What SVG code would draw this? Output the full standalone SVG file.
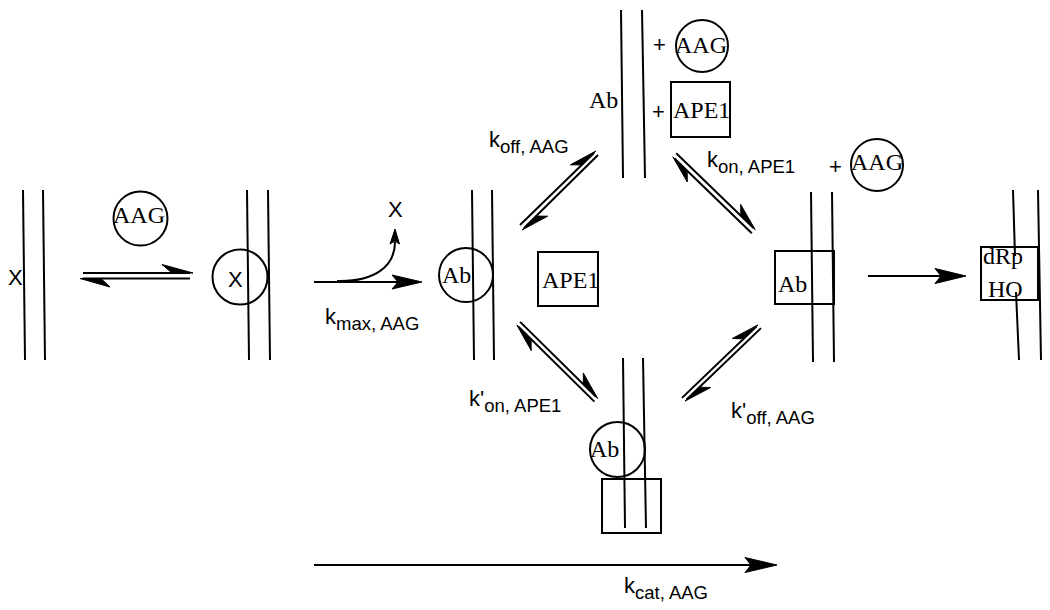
<svg xmlns="http://www.w3.org/2000/svg" width="1050" height="610" viewBox="0 0 1050 610">
<style>
.ln{stroke:#000;stroke-width:2;fill:none}
.sh{stroke:#000;stroke-width:2;fill:none}
.hd{fill:#000;stroke:#000;stroke-width:1;stroke-linejoin:miter}
.serif{font-family:"Liberation Serif","Times New Roman",serif;font-size:24px;fill:#000}
.sans{font-family:"Liberation Sans",Arial,sans-serif;font-size:22px;fill:#000}
.sub{font-size:18.5px}
</style>
<rect width="1050" height="610" fill="#fff"/>

<g id="dna-x">
<line class="ln" x1="23" y1="190" x2="25" y2="360"/>
<line class="ln" x1="43" y1="190" x2="45" y2="360"/>
<text class="sans" x="8" y="285">X</text>
</g>

<g id="aag-free">
<circle class="sh" cx="140.5" cy="218.5" r="27"/>
<text class="serif" x="113" y="223">AAG</text>
</g>

<g id="dna-aag-x">
<line class="ln" x1="247" y1="190" x2="249" y2="360"/>
<line class="ln" x1="268" y1="190" x2="270" y2="360"/>
<circle class="sh" cx="240" cy="277" r="27.5"/>
<text class="sans" x="228" y="287">X</text>
</g>

<g id="x-released">
<text class="sans" x="388" y="217">X</text>
</g>

<g id="dna-aag-ab">
<line class="ln" x1="472" y1="190" x2="474" y2="360"/>
<line class="ln" x1="492" y1="190" x2="494" y2="360"/>
<circle class="sh" cx="466" cy="275" r="27"/>
<text class="serif" x="442" y="283">Ab</text>
</g>

<g id="ape1-free">
<rect class="sh" x="538" y="252" width="60" height="54"/>
<text class="serif" x="542" y="288" font-size="23">APE1</text>
</g>

<g id="dna-ab-top">
<line class="ln" x1="621" y1="10" x2="623" y2="178"/>
<line class="ln" x1="642" y1="10" x2="645" y2="178"/>
<text class="serif" x="589" y="108">Ab</text>
<text class="sans" x="653" y="52">+</text>
<circle class="sh" cx="702" cy="46" r="26"/>
<text class="serif" x="675" y="53">AAG</text>
<text class="sans" x="652" y="119">+</text>
<rect class="sh" x="671" y="82" width="59" height="55"/>
<text class="serif" x="673" y="118" font-size="23">APE1</text>
</g>

<g id="dna-ape1-ab">
<line class="ln" x1="811" y1="192" x2="813" y2="362"/>
<line class="ln" x1="832" y1="192" x2="834" y2="362"/>
<rect class="sh" x="775" y="251" width="59" height="53"/>
<text class="serif" x="778" y="292">Ab</text>
<text class="sans" x="829" y="174">+</text>
<circle class="sh" cx="877" cy="165" r="26"/>
<text class="serif" x="851" y="170">AAG</text>
</g>

<g id="dna-product">
<line class="ln" x1="1013" y1="190" x2="1015" y2="256"/>
<line class="ln" x1="1016" y1="292" x2="1019" y2="360"/>
<line class="ln" x1="1038" y1="190" x2="1041" y2="360"/>
<rect class="sh" x="981" y="247" width="57" height="53"/>
<text class="serif" x="983" y="264">dRp</text>
<text class="serif" x="988" y="297">HO</text>
</g>

<g id="dna-ternary">
<line class="ln" x1="623" y1="358" x2="625" y2="528"/>
<line class="ln" x1="643" y1="358" x2="646" y2="528"/>
<circle class="sh" cx="617.5" cy="449.5" r="27.5"/>
<text class="serif" x="590" y="457">Ab</text>
<rect class="sh" x="602" y="479" width="59" height="54"/>
</g>

<g id="connectors">
<!-- AAG binding equilibrium -->
<line class="ln" x1="83" y1="273" x2="190" y2="273"/>
<polygon class="hd" points="193,273 162,264.5 172,273"/>
<line class="ln" x1="83" y1="278.5" x2="190" y2="278.5"/>
<polygon class="hd" points="80,278.5 110,287 101,278.5"/>

<!-- kmax arrow -->
<line class="ln" x1="314" y1="282" x2="405" y2="282"/>
<polygon class="hd" points="422,282 392,275 398,282 392,289"/>
<path class="ln" d="M337,281 C375,282 395,266 395,242"/>
<polygon class="hd" points="395,229 390,244 395,241 399.5,244"/>

<!-- upper-left equilibrium -->
<line class="ln" x1="520" y1="225" x2="594" y2="153"/>
<polygon class="hd" points="596,151 570.4,164.8 581.7,164.9"/>
<line class="ln" x1="524" y1="228" x2="598" y2="155"/>
<polygon class="hd" points="522,230 547.6,216.2 536.3,216.1"/>

<!-- upper-right equilibrium -->
<line class="ln" x1="676.2" y1="153.2" x2="753.5" y2="228"/>
<polygon class="hd" points="755.2,229.7 740.7,204.5 740.8,215.8"/>
<line class="ln" x1="674.5" y1="158.5" x2="751.8" y2="233.3"/>
<polygon class="hd" points="672.8,156.8 687.3,182 687.2,170.7"/>

<!-- lower-left equilibrium -->
<line class="ln" x1="520.1" y1="321.9" x2="596" y2="396.8"/>
<polygon class="hd" points="597.6,398.4 583.3,373 583.4,384.3"/>
<line class="ln" x1="518.5" y1="326.7" x2="594.4" y2="401.6"/>
<polygon class="hd" points="516.9,325.1 531.2,350.5 531.1,339.2"/>

<!-- lower-right equilibrium -->
<line class="ln" x1="682" y1="397.9" x2="756.4" y2="326.5"/>
<polygon class="hd" points="758,324.9 732.3,338.5 743.6,338.8"/>
<line class="ln" x1="686.6" y1="399.5" x2="761" y2="328.1"/>
<polygon class="hd" points="685,401.1 710.7,387.5 699.4,387.2"/>

<!-- product arrow -->
<line class="ln" x1="868" y1="276" x2="950" y2="276"/>
<polygon class="hd" points="966,276 935,268.5 941,276 935,283.5"/>

<!-- kcat arrow -->
<line class="ln" x1="314" y1="565" x2="760" y2="565"/>
<polygon class="hd" points="777,565 745,557.5 751,565 745,572.5"/>
</g>

<g id="rate-labels">
<text class="sans" x="325" y="324">k<tspan class="sub" dy="6">max, AAG</tspan></text>
<text class="sans" x="489" y="147">k<tspan class="sub" dy="6">off, AAG</tspan></text>
<text class="sans" x="707" y="167">k<tspan class="sub" dy="6">on, APE1</tspan></text>
<text class="sans" x="469" y="406">k'<tspan class="sub" dy="6">on, APE1</tspan></text>
<text class="sans" x="731" y="418">k'<tspan class="sub" dy="6">off, AAG</tspan></text>
<text class="sans" x="624" y="593">k<tspan class="sub" dy="6">cat, AAG</tspan></text>
</g>
</svg>
